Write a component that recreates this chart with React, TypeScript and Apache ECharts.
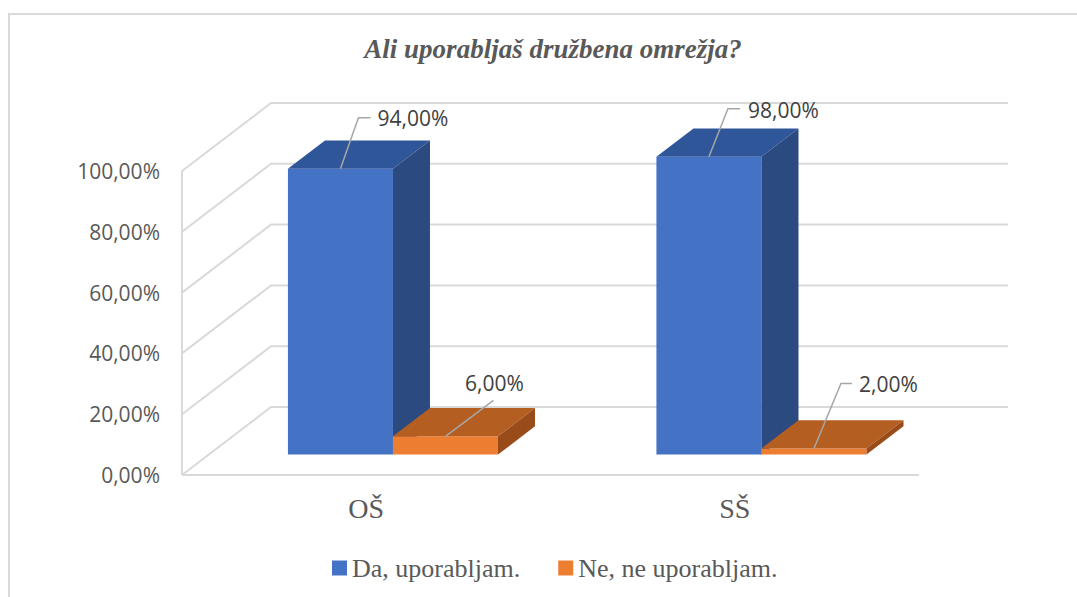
import React, { useEffect, useRef } from "react";
import * as echarts from "echarts";

const titleText = "Ali uporabljaš družbena omrežja?";
const categories = ["OŠ", "SŠ"];
const seriesNames = ["Da, uporabljam.", "Ne, ne uporabljam."];
const daValues = [0.94, 0.98];
const neValues = [0.06, 0.02];
const yTicks = [0, 0.2, 0.4, 0.6, 0.8, 1];

// layout / style config (not data)
const DX = 89; // depth offset of the back wall
const DY = -68;
const D1 = 0.3; // bar front depth fraction
const D2 = 0.716; // bar back depth fraction
const BAR_FRAC = 0.285; // bar width as fraction of category width

const palette = {
  da: { front: "#4472C4", top: "#30569A", side: "#2B4A80" },
  ne: { front: "#ED7D31", top: "#B45E22", side: "#994C1A" },
};

const leadersDa = [
  { ex: 18, ey: -51, tail: 12, tx: 37, ty: -51, align: "left" },
  { ex: 19, ey: -48, tail: 12, tx: 39, ty: -47, align: "left" },
];
const leadersNe = [
  { ex: 48, ey: -36, tail: 0, tx: 49, ty: -53, align: "center" },
  { ex: 27, ey: -65, tail: 11, tx: 45, ty: -65, align: "left" },
];

const fmt = (v: number) => (v * 100).toFixed(2).replace(".", ",") + "%";

function makeBarRender(side: "left" | "right", colors: any, leaders: any[]) {
  return (params: any, api: any) => {
    const cat = api.value(0);
    const v = api.value(1);
    const base = api.coord([cat, 0]);
    const top = api.coord([cat, v]);
    const cw = api.size([1, 0])[0];
    const bw = cw * BAR_FRAC;
    const cx = base[0] + D1 * DX;
    const xL = side === "left" ? cx - bw : cx;
    const xR = side === "left" ? cx : cx + bw;
    const yB = base[1] + D1 * DY;
    const yT = top[1] + D1 * DY;
    const bdx = (D2 - D1) * DX;
    const bdy = (D2 - D1) * DY;
    const mx = (xL + xR) / 2;
    const ld = leaders[params.dataIndex];
    const leaderPts: number[][] = [
      [mx, yT],
      [mx + ld.ex, yT + ld.ey],
    ];
    if (ld.tail) leaderPts.push([mx + ld.ex + ld.tail, yT + ld.ey]);
    return {
      type: "group",
      children: [
        {
          type: "rect",
          shape: { x: xL, y: yT, width: xR - xL, height: yB - yT },
          style: { fill: colors.front },
        },
        {
          type: "polygon",
          shape: {
            points: [
              [xL, yT],
              [xR, yT],
              [xR + bdx, yT + bdy],
              [xL + bdx, yT + bdy],
            ],
          },
          style: { fill: colors.top },
        },
        {
          type: "polygon",
          shape: {
            points: [
              [xR, yT],
              [xR + bdx, yT + bdy],
              [xR + bdx, yB + bdy],
              [xR, yB],
            ],
          },
          style: { fill: colors.side },
        },
        {
          type: "polyline",
          shape: { points: leaderPts },
          style: { stroke: "#A6A6A6", lineWidth: 1.5, fill: null },
          z2: 10,
        },
        {
          type: "text",
          x: mx + ld.tx,
          y: yT + ld.ty,
          z2: 11,
          style: {
            text: fmt(v),
            fill: "#404040",
            fontSize: 21,
            fontFamily: "Open Sans",
            align: ld.align,
            verticalAlign: "middle",
          },
        },
      ],
    };
  };
}

function wallRender(params: any, api: any) {
  const cs = params.coordSys;
  const v = api.value(1);
  const y = api.coord([0, v])[1];
  const stroke = { stroke: "#D9D9D9", lineWidth: 2, fill: null };
  const children: any[] = [
    {
      type: "polyline",
      shape: {
        points: [
          [cs.x, y],
          [cs.x + DX, y + DY],
          [cs.x + cs.width + DX, y + DY],
        ],
      },
      style: stroke,
    },
  ];
  if (v === 0) {
    children.push({
      type: "line",
      shape: { x1: cs.x, y1: y, x2: cs.x + cs.width, y2: y },
      style: stroke,
    });
    children.push({
      type: "line",
      shape: { x1: cs.x, y1: cs.y, x2: cs.x, y2: y },
      style: stroke,
    });
  }
  return { type: "group", children };
}

export default function App() {
  const ref = useRef<HTMLDivElement>(null);
  useEffect(() => {
    if (!ref.current) return;
    const chart = echarts.init(ref.current, null, { renderer: "svg" });
    chart.setOption({
      animation: false,
      backgroundColor: "#ffffff",
      grid: { left: 182, top: 171, width: 737, height: 304 },
      xAxis: {
        type: "category",
        data: categories,
        axisLine: { show: false },
        axisTick: { show: false },
        splitLine: { show: false },
        axisLabel: {
          margin: 19,
          fontFamily: "Liberation Serif",
          fontSize: 28,
          color: "#595959",
        },
      },
      yAxis: {
        type: "value",
        min: 0,
        max: 1,
        interval: 0.2,
        axisLine: { show: false },
        axisTick: { show: false },
        splitLine: { show: false },
        axisLabel: {
          margin: 22,
          formatter: (v: number) => fmt(v),
          fontFamily: "Open Sans",
          fontSize: 21,
          color: "#595959",
        },
      },
      legend: {
        data: seriesNames,
        left: 327,
        top: 550,
        icon: "rect",
        itemWidth: 15,
        itemHeight: 15,
        itemGap: 38,
        textStyle: {
          fontFamily: "Liberation Serif",
          fontSize: 26,
          color: "#595959",
        },
      },
      graphic: [
        {
          type: "polyline",
          shape: {
            points: [
              [9, 620],
              [9, 14],
              [1090, 14],
            ],
          },
          style: { stroke: "#D9D9D9", lineWidth: 2, fill: null },
        },
        {
          type: "text",
          x: 553,
          y: 49,
          style: {
            text: titleText,
            fontFamily: "Liberation Serif",
            fontStyle: "italic",
            fontWeight: "bold",
            fontSize: 27,
            fill: "#595959",
            align: "center",
            verticalAlign: "middle",
          },
        },
      ],
      series: [
        {
          name: "walls",
          type: "custom",
          renderItem: wallRender,
          data: yTicks.map((v) => [0, v]),
          silent: true,
          z: 1,
        },
        {
          name: seriesNames[0],
          type: "custom",
          renderItem: makeBarRender("left", palette.da, leadersDa),
          data: daValues.map((v, i) => [i, v]),
          itemStyle: { color: palette.da.front },
          z: 2,
        },
        {
          name: seriesNames[1],
          type: "custom",
          renderItem: makeBarRender("right", palette.ne, leadersNe),
          data: neValues.map((v, i) => [i, v]),
          itemStyle: { color: palette.ne.front },
          z: 3,
        },
      ],
    });
    return () => chart.dispose();
  }, []);
  return (
    <div
      ref={ref}
      style={{ position: "fixed", left: 0, top: 0, width: 1077, height: 597 }}
    />
  );
}
